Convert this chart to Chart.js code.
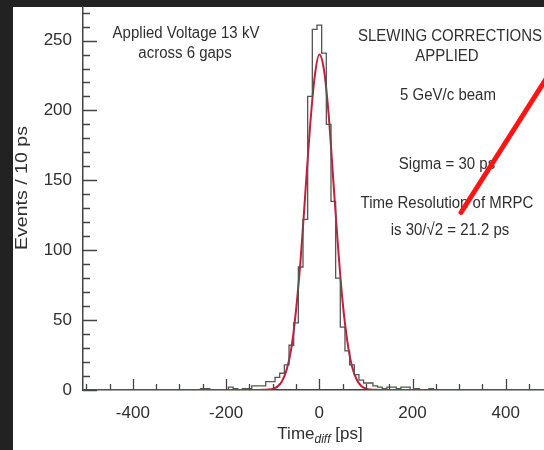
<!DOCTYPE html>
<html>
<head>
<meta charset="utf-8">
<script src="https://cdn.jsdelivr.net/npm/chart.js@4.4.1/dist/chart.umd.min.js"></script>
<style>
    html, body { margin: 0; padding: 0; background: #222; }
    #sheet { position: absolute; left: 13px; top: 7px; width: 531px; height: 443px; background: #fff; }
    #wrap { position: absolute; left: 0; top: 0; width: 544px; height: 450px; }
</style>
</head>
<body>
<div id="sheet"></div>
<div id="wrap"><canvas id="chart" width="544" height="450"></canvas></div>
<script>
// histogram: 10 ps bins, first bin centred at -500 ps
const binStart = -500;
const binWidth = 10;
const counts = [
    0, 0, 0, 0, 0, 0, 0, 0, 0, 0,          // -500 .. -410
    0, 0, 0, 0, 0, 0, 0, 0, 0, 0,          // -400 .. -310
    0, 0, 0, 0, 0, 1, 1, 0, 0, 0,          // -300 .. -210
    0, 2, 1, 0, 1, 1, 3, 3, 3, 6,          // -200 .. -110
    6, 9, 12, 18, 32, 48, 88, 122, 210, 258, // -100 .. -10
    261, 241, 190, 135, 80, 45, 28, 18, 11, 7, // 0 .. 90
    5, 5, 3, 2, 1, 2, 2, 1, 2, 2,          // 100 .. 190
    0, 1, 0, 0, 1, 0, 0, 0, 0, 0,          // 200 .. 290
    0, 0, 0, 0, 0, 0, 0, 0, 0, 0,          // 300 .. 390
    0, 0, 0, 0, 0, 0, 0, 0, 0              // 400 .. 480
];

// gaussian fit curve
const fitTimes = [-507, -130, -120, -110, -100, -90, -80, -70, -60, -50, -40, -30, -20, -10,
    0, 10, 20, 30, 40, 50, 60, 70, 80, 90, 100, 110, 120, 130, 482];
const fitEvents = [0, 0, 0.1, 0.3, 0.8, 2.4, 6.3, 14.6, 30, 57, 94, 141, 188, 224,
    240, 229, 197, 150, 103, 63, 35, 17, 7.5, 2.9, 1, 0.3, 0.1, 0, 0];

const xLabelTicks = [-400, -200, 0, 200, 400];
const yLabelTicks = [0, 50, 100, 150, 200, 250];

const notesLeft = ["Applied Voltage 13 kV", "across 6 gaps"];
const notesRight = ["SLEWING CORRECTIONS", "APPLIED", "5 GeV/c beam", "Sigma = 30 ps",
    "Time Resolution of MRPC", "is 30/\u221A2 = 21.2 ps"];

// red pointer line, in data units (time, events)
const arrowTail = [304, 127];
const arrowHead = [516, 238];

const FONT = "'Liberation Sans', Arial, Helvetica, sans-serif";
const INK = "#303030";

const histPoints = counts.map((c, i) => ({ x: binStart + i * binWidth, y: c }));
const fitPoints = fitTimes.map((t, i) => ({ x: t, y: fitEvents[i] }));

function stretchedText(ctx, text, x, y, size, style) {
    ctx.save();
    ctx.translate(x, y);
    ctx.scale(1, 1.15);
    ctx.font = (style || "") + " " + size + "px " + FONT;
    ctx.fillText(text, 0, 0);
    ctx.restore();
}

const decorations = {
    id: "decorations",
    afterDatasetsDraw(chart) {
        const ctx = chart.ctx;
        const xs = chart.scales.x;
        const ys = chart.scales.y;
        const area = chart.chartArea;

        // inward tick marks
        ctx.save();
        ctx.strokeStyle = "#444";
        ctx.lineWidth = 1.3;
        ctx.beginPath();
        for (let v = -500; v <= 480; v += 50) {
            const px = Math.round(xs.getPixelForValue(v)) + 0.5;
            const len = v % 200 === 0 ? 11 : 6;
            ctx.moveTo(px, area.bottom);
            ctx.lineTo(px, area.bottom - len);
        }
        for (let v = 0; v <= 270; v += 10) {
            const py = Math.round(ys.getPixelForValue(v)) + 0.5;
            const len = v % 50 === 0 ? 14 : 7;
            ctx.moveTo(area.left, py);
            ctx.lineTo(area.left + len, py);
        }
        ctx.stroke();
        ctx.restore();

        // text
        ctx.save();
        ctx.fillStyle = INK;
        ctx.textAlign = "center";
        ctx.textBaseline = "alphabetic";
        stretchedText(ctx, notesLeft[0], 186, 38, 15);
        stretchedText(ctx, notesLeft[1], 185, 58, 15);
        stretchedText(ctx, notesRight[0], 450, 41, 15);
        stretchedText(ctx, notesRight[1], 447, 61, 15);
        stretchedText(ctx, notesRight[2], 448, 100, 15);
        stretchedText(ctx, notesRight[3], 447, 169, 15);
        stretchedText(ctx, notesRight[4], 447, 208, 15);
        stretchedText(ctx, notesRight[5], 450, 235, 15);

        // y title
        ctx.save();
        ctx.translate(22, 188);
        ctx.rotate(-Math.PI / 2);
        ctx.scale(1.15, 1);
        ctx.textBaseline = "middle";
        ctx.font = "17px " + FONT;
        ctx.fillText("Events / 10 ps", 0, 0);
        ctx.restore();

        // x title with subscript
        ctx.textAlign = "left";
        const main = "17px " + FONT;
        const sub = "italic 12px " + FONT;
        ctx.font = main;
        const wTime = ctx.measureText("Time").width;
        const wUnit = ctx.measureText(" [ps]").width;
        ctx.font = sub;
        const wSub = ctx.measureText("diff").width;
        let tx = 320 - (wTime + wSub + wUnit) / 2;
        ctx.font = main;
        ctx.fillText("Time", tx, 439);
        tx += wTime;
        ctx.font = sub;
        ctx.fillText("diff", tx, 443);
        tx += wSub;
        ctx.font = main;
        ctx.fillText(" [ps]", tx, 439);
        ctx.restore();

        // red pointer
        ctx.save();
        ctx.strokeStyle = "#ff1414";
        ctx.lineWidth = 5;
        ctx.lineCap = "round";
        ctx.beginPath();
        ctx.moveTo(xs.getPixelForValue(arrowTail[0]), ys.getPixelForValue(arrowTail[1]));
        ctx.lineTo(xs.getPixelForValue(arrowHead[0]), ys.getPixelForValue(arrowHead[1]));
        ctx.stroke();
        ctx.restore();
    }
};

new Chart(document.getElementById("chart"), {
    type: "line",
    data: {
        datasets: [
            {
                label: "Events",
                data: histPoints,
                stepped: "middle",
                borderColor: "#555",
                borderWidth: 1.3,
                pointRadius: 0,
                fill: false
            },
            {
                label: "Fit",
                data: fitPoints,
                borderColor: "#c41e3a",
                borderWidth: 2,
                pointRadius: 0,
                cubicInterpolationMode: "monotone",
                fill: false
            }
        ]
    },
    options: {
        responsive: false,
        animation: false,
        devicePixelRatio: 1,
        layout: { padding: { top: 7, left: 0, right: 0, bottom: 0 } },
        plugins: {
            legend: { display: false },
            tooltip: { enabled: false }
        },
        scales: {
            x: {
                type: "linear",
                min: -507,
                max: 482,
                afterBuildTicks: (s) => { s.ticks = xLabelTicks.map((v) => ({ value: v })); },
                afterFit: (s) => {
                    s.height = 60;
                    s.paddingLeft = 0;
                    s.paddingRight = 0;
                    s.paddingTop = 0;
                    s.paddingBottom = 0;
                },
                grid: { display: false, drawTicks: false },
                border: { display: true, color: "#444", width: 1.5 },
                ticks: {
                    padding: 13,
                    color: INK,
                    autoSkip: false,
                    maxRotation: 0,
                    font: { family: FONT, size: 17 }
                }
            },
            y: {
                min: 0,
                max: 274,
                afterBuildTicks: (s) => { s.ticks = yLabelTicks.map((v) => ({ value: v })); },
                afterFit: (s) => {
                    s.width = 83;
                    s.paddingLeft = 0;
                    s.paddingRight = 0;
                    s.paddingTop = 0;
                    s.paddingBottom = 0;
                },
                grid: { display: false, drawTicks: false },
                border: { display: true, color: "#444", width: 1.5 },
                ticks: {
                    padding: 11,
                    color: INK,
                    font: { family: FONT, size: 17 }
                }
            }
        }
    },
    plugins: [decorations]
});
</script>
</body>
</html>
